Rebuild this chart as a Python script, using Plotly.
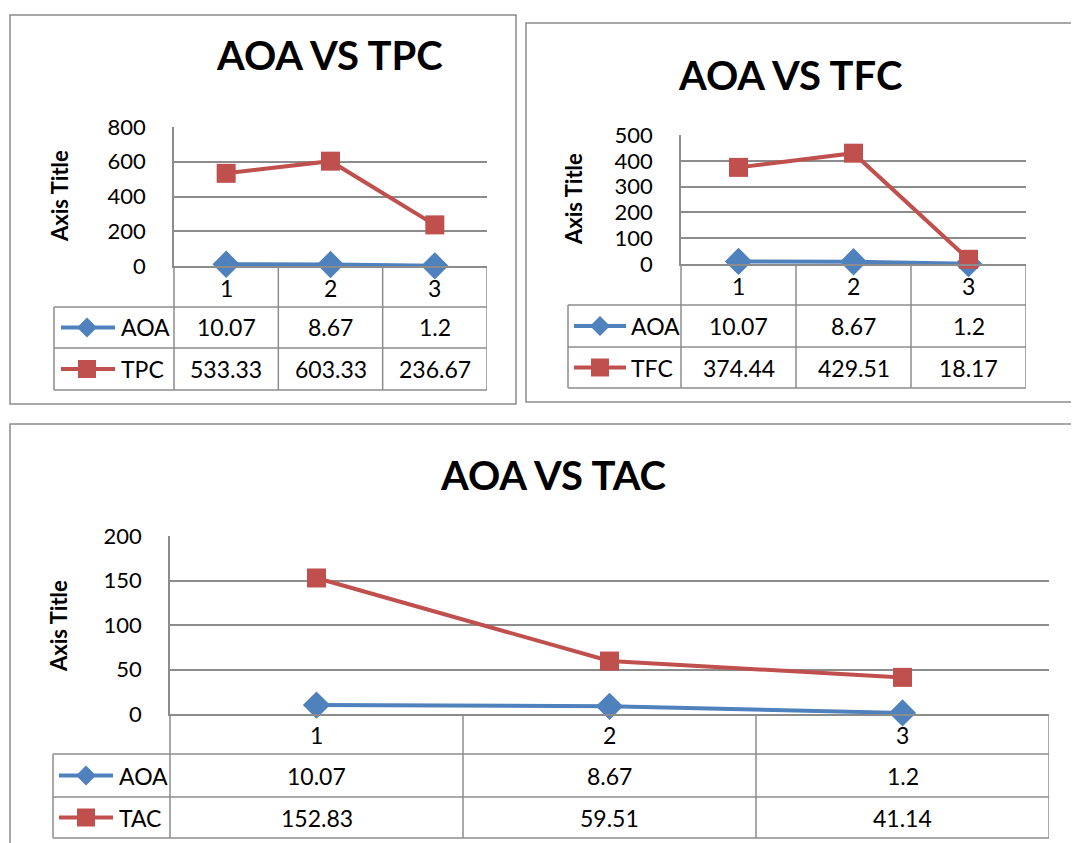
import plotly.graph_objects as go

# ---------------- data ----------------
categories = [1, 2, 3]
aoa = [10.07, 8.67, 1.2]
tpc = [533.33, 603.33, 236.67]
tfc = [374.44, 429.51, 18.17]
tac = [152.83, 59.51, 41.14]
titles = ["AOA VS TPC", "AOA VS TFC", "AOA VS TAC"]
second_names = ["TPC", "TFC", "TAC"]
second_series = [tpc, tfc, tac]
y_max = [800, 500, 200]
y_step = [200, 100, 50]

# ---------------- layout (pixels, page coordinates) ----------------
W, H = 1079, 843
OFF = 8  # default page body margin
BLUE = "#4F81BD"
RED = "#C0504D"
GRID = "#8C8C8C"
FONT = "Lato"

panels = [
    dict(border=(10, 15, 516, 404), plot=(174, 487, 127, 266), rows=(307, 348, 390),
         tleft=54, title=(329, 55), ytitle=(60, 196), key=(61, 115, 87, 119)),
    dict(border=(526, 23, 1100, 402), plot=(681, 1026, 135, 264), rows=(305, 347, 388),
         tleft=568, title=(790, 75), ytitle=(573, 199), key=(574, 626, 600, 629)),
    dict(border=(10, 424, 1100, 870), plot=(170, 1049, 536, 714), rows=(754, 797, 838),
         tleft=53, title=(553, 475), ytitle=(58, 626), key=(59, 113, 86, 117)),
]


def fx(x):
    return (x - OFF) / W


def fy(y):
    return 1 - (y - OFF) / H


fig = go.Figure()
shapes = []
annotations = []

for i, p in enumerate(panels):
    n = i + 1
    xa = "x" if n == 1 else f"x{n}"
    ya = "y" if n == 1 else f"y{n}"
    x0, x1, yt, yb = p["plot"]
    r0, r1, r2 = p["rows"]

    fig.add_trace(go.Scatter(
        x=categories, y=aoa, name="AOA", mode="lines+markers",
        line=dict(color=BLUE, width=4),
        marker=dict(symbol="diamond", size=21, color=BLUE),
        cliponaxis=False, xaxis=xa, yaxis=ya, showlegend=False))
    fig.add_trace(go.Scatter(
        x=categories, y=second_series[i], name=second_names[i], mode="lines+markers",
        line=dict(color=RED, width=4),
        marker=dict(symbol="square", size=19, color=RED),
        cliponaxis=False, xaxis=xa, yaxis=ya, showlegend=False))

    xkey = "xaxis" if n == 1 else f"xaxis{n}"
    ykey = "yaxis" if n == 1 else f"yaxis{n}"
    fig.update_layout(**{
        xkey: dict(domain=[fx(x0), fx(x1)], range=[0.5, 3.5], anchor=ya,
                   showgrid=False, zeroline=False, showticklabels=False,
                   automargin=False,
                   showline=True, linecolor=GRID, linewidth=1.5, fixedrange=True),
        ykey: dict(domain=[fy(yb), fy(yt)], range=[0, y_max[i]], dtick=y_step[i],
                   anchor=xa, showgrid=True, gridcolor=GRID, gridwidth=1.5,
                   zeroline=False, showline=True, linecolor=GRID, linewidth=1.5,
                   ticks="", ticklabelstandoff=22, automargin=False,
                   tickfont=dict(family=FONT, size=22, color="black"), fixedrange=True),
    })

    # outer border
    bx0, by0, bx1, by1 = p["border"]
    shapes.append(dict(type="rect", xref="paper", yref="paper",
                       x0=fx(bx0), x1=fx(bx1), y0=fy(by1), y1=fy(by0),
                       line=dict(color=GRID, width=1.5), layer="below"))

    # data table lines
    for ry in (r0, r1, r2):
        shapes.append(dict(type="line", xref="paper", yref="paper",
                           x0=fx(p["tleft"]), x1=fx(x1), y0=fy(ry), y1=fy(ry),
                           line=dict(color=GRID, width=1.5), layer="below"))
    shapes.append(dict(type="line", xref="paper", yref="paper",
                       x0=fx(p["tleft"]), x1=fx(p["tleft"]), y0=fy(r0), y1=fy(r2),
                       line=dict(color=GRID, width=1.5), layer="below"))
    shapes.append(dict(type="line", xref="paper", yref="paper",
                       x0=fx(x0), x1=fx(x0), y0=fy(yb), y1=fy(r2),
                       line=dict(color=GRID, width=1.5), layer="below"))
    for b in (1.5, 2.5, 3.5):
        shapes.append(dict(type="line", xref=xa, yref="paper",
                           x0=b, x1=b, y0=fy(yb), y1=fy(r2),
                           line=dict(color=GRID, width=1.5), layer="below"))

    # category labels
    for c in categories:
        annotations.append(dict(x=c, xref=xa, y=fy((yb + r0) / 2 + 1), yref="paper",
                                text=str(c), showarrow=False, xanchor="center",
                                yanchor="middle",
                                font=dict(family=FONT, size=23, color="black")))
    # table values
    for row_y, vals in (((r0 + r1) / 2, aoa), ((r1 + r2) / 2, second_series[i])):
        for c, v in zip(categories, vals):
            annotations.append(dict(x=c, xref=xa, y=fy(row_y), yref="paper",
                                    text=str(v), showarrow=False, xanchor="center",
                                    yanchor="middle",
                                    font=dict(family=FONT, size=23, color="black")))

    # legend keys inside table
    kx0, kx1, kc, kt = p["key"]
    for row_y, color, sym, name in (((r0 + r1) / 2, BLUE, "diamond", "AOA"),
                                    ((r1 + r2) / 2, RED, "square", second_names[i])):
        shapes.append(dict(type="line", xref="paper", yref="paper",
                           x0=fx(kx0), x1=fx(kx1), y0=fy(row_y), y1=fy(row_y),
                           line=dict(color=color, width=4), layer="above"))
        if sym == "diamond":
            d = 10
            path = (f"M {fx(kc - d)},{fy(row_y)} L {fx(kc)},{fy(row_y - d)} "
                    f"L {fx(kc + d)},{fy(row_y)} L {fx(kc)},{fy(row_y + d)} Z")
            shapes.append(dict(type="path", xref="paper", yref="paper", path=path,
                               fillcolor=color, line=dict(color=color, width=0),
                               layer="above"))
        else:
            d = 9
            shapes.append(dict(type="rect", xref="paper", yref="paper",
                               x0=fx(kc - d), x1=fx(kc + d),
                               y0=fy(row_y + d), y1=fy(row_y - d),
                               fillcolor=color, line=dict(color=color, width=0),
                               layer="above"))
        annotations.append(dict(x=fx(kt), xref="paper", y=fy(row_y), yref="paper",
                                text=name, showarrow=False, xanchor="left",
                                yanchor="middle",
                                font=dict(family=FONT, size=23, color="black")))

    # title
    tx, ty = p["title"]
    annotations.append(dict(x=fx(tx), y=fy(ty), xref="paper", yref="paper",
                            text=f"<b>{titles[i]}</b>", showarrow=False,
                            xanchor="center", yanchor="middle",
                            font=dict(family=FONT, size=40, color="black")))
    # y-axis title
    ax, ay = p["ytitle"]
    annotations.append(dict(x=fx(ax), y=fy(ay), xref="paper", yref="paper",
                            text="<b>Axis Title</b>", showarrow=False, textangle=-90,
                            xanchor="center", yanchor="middle",
                            font=dict(family=FONT, size=22, color="black")))

fig.update_layout(
    width=W, height=H,
    margin=dict(l=0, r=0, t=0, b=0, pad=0, autoexpand=False),
    paper_bgcolor="white",
    plot_bgcolor="rgba(0,0,0,0)",
    shapes=shapes,
    annotations=annotations,
    showlegend=False,
)

fig.write_html("out.html")
